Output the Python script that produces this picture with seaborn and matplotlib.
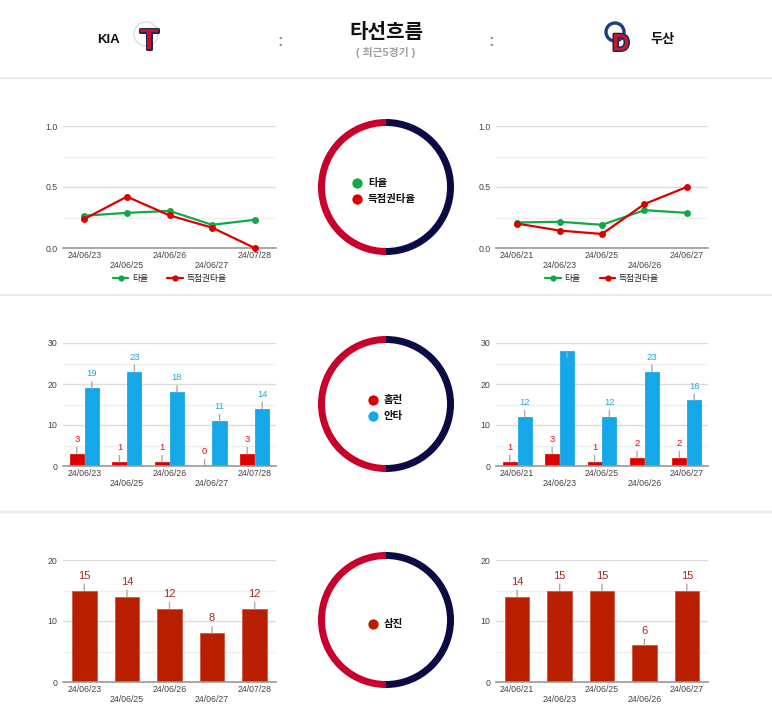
import numpy as np
import pandas as pd
import matplotlib
matplotlib.use('Agg')
from matplotlib import pyplot as plt
from matplotlib.lines import Line2D
from matplotlib.patches import Wedge, Circle
import matplotlib.patheffects as pe
import seaborn as sns

sns.set_theme(style='white')
plt.rcParams['font.family'] = ['Liberation Sans', 'Noto Sans CJK KR', 'DejaVu Sans']

# ---- data ----
kia_dates = ['24/06/23', '24/06/25', '24/06/26', '24/06/27', '24/07/28']
doo_dates = ['24/06/21', '24/06/23', '24/06/25', '24/06/26', '24/06/27']

kia_avg = [0.265, 0.288, 0.304, 0.190, 0.231]
kia_risp = [0.238, 0.421, 0.267, 0.167, 0.0]
doo_avg = [0.209, 0.215, 0.190, 0.310, 0.288]
doo_risp = [0.200, 0.143, 0.115, 0.360, 0.500]

kia_hr = [3, 1, 1, 0, 3]
kia_hit = [19, 23, 18, 11, 14]
doo_hr = [1, 3, 1, 2, 2]
doo_hit = [12, 28, 12, 23, 16]

kia_so = [15, 14, 12, 8, 12]
doo_so = [14, 15, 15, 6, 15]

GREEN = '#12a84a'
RED = '#dd0000'
BLUE = '#14a8e9'
SO_RED = '#b81e00'
SO_TXT = '#a8281a'
CRIMSON = '#c8002b'
NAVY = '#0b0a44'

W, H = 772, 721
fig = plt.figure(figsize=(W / 100, H / 100), dpi=100)

# overlay axes in pixel coords for header, separators and the rings
bg = fig.add_axes([0, 0, 1, 1])
bg.set_xlim(0, W)
bg.set_ylim(H, 0)
bg.axis('off')


def px_axes(l, t, r, b):
    return fig.add_axes([l / W, 1 - b / H, (r - l) / W, (b - t) / H])


def stagger(dates):
    return [d if i % 2 == 0 else '\n' + d for i, d in enumerate(dates)]


def style_axes(ax, ymax, major, minor, fmt):
    ax.set_ylim(0, ymax)
    ax.set_xlim(-0.5, 4.5)
    ax.set_yticks(major)
    ax.set_yticklabels([fmt.format(v) for v in major])
    ax.set_yticks(minor, minor=True)
    ax.yaxis.grid(True, which='major', color='#dcdcdc', lw=1)
    ax.yaxis.grid(True, which='minor', color='#efefef', lw=1)
    ax.xaxis.grid(False)
    ax.set_axisbelow(True)
    for s in ['top', 'right', 'left']:
        ax.spines[s].set_visible(False)
    ax.spines['bottom'].set_color('#999999')
    ax.spines['bottom'].set_linewidth(1.2)
    ax.tick_params(axis='both', which='both', length=0, labelsize=6.3,
                   labelcolor='#444444', pad=4)
    ax.tick_params(axis='x', pad=2)
    ax.set_xlabel('')
    ax.set_ylabel('')


def stem_label(ax, bar, text, color, size, ymax):
    x = bar.get_x() + bar.get_width() / 2
    h = bar.get_height()
    up = h < ymax * 0.88
    ax.annotate(text, xy=(x, h), xytext=(0, 7 if up else -7),
                textcoords='offset points', ha='center',
                va='bottom' if up else 'top', color=color, fontsize=size,
                annotation_clip=False,
                arrowprops=dict(arrowstyle='-', color='#aaaaaa', lw=1,
                                shrinkA=0, shrinkB=0))


# ---- row 1: batting average lines ----
for (l, r), dates, avg, risp in [((63, 276), kia_dates, kia_avg, kia_risp),
                                 ((496, 708), doo_dates, doo_avg, doo_risp)]:
    ax = px_axes(l, 126, r, 248)
    df = pd.DataFrame({
        'pos': list(range(5)) * 2,
        'value': avg + risp,
        'series': ['타율'] * 5 + ['득점권타율'] * 5,
    })
    sns.lineplot(data=df, x='pos', y='value', hue='series',
                 palette={'타율': GREEN, '득점권타율': RED}, marker='o',
                 markersize=5, markeredgewidth=0, linewidth=1.6,
                 legend=False, ax=ax)
    for ln in ax.lines:
        ln.set_clip_on(False)
        ln.set_zorder(3)
    style_axes(ax, 1.0, [0, 0.5, 1.0], [0.25, 0.75], '{:.1f}')
    ax.set_xticks(range(5))
    ax.set_xticklabels(stagger(dates))
    handles = [Line2D([], [], color=GREEN, marker='o', markersize=4.5, lw=1.6,
                      markeredgewidth=0),
               Line2D([], [], color=RED, marker='o', markersize=4.5, lw=1.6,
                      markeredgewidth=0)]
    ax.legend(handles, ['타율', '득점권타율'], loc='upper center',
              bbox_to_anchor=(0.5, -0.175), ncol=2, frameon=False,
              fontsize=6.3, handlelength=1.8, columnspacing=2.2,
              handletextpad=0.4, borderpad=0)

# ---- row 2: home runs and hits ----
for (l, r), dates, hr, hit in [((63, 276), kia_dates, kia_hr, kia_hit),
                               ((496, 708), doo_dates, doo_hr, doo_hit)]:
    ax = px_axes(l, 343, r, 466)
    df = pd.DataFrame({
        'date': dates * 2,
        'value': hr + hit,
        'kind': ['홈런'] * 5 + ['안타'] * 5,
    })
    sns.barplot(data=df, x='date', y='value', hue='kind', order=dates,
                hue_order=['홈런', '안타'],
                palette={'홈런': RED, '안타': BLUE}, width=0.7, gap=0.05,
                saturation=1, legend=False, ax=ax, linewidth=0.6,
                edgecolor='white')
    for cont, vals, col in zip(ax.containers, [hr, hit], ['#dd1111', '#20a8e6']):
        for bar, v in zip(cont, vals):
            bar.set_edgecolor(col)
            stem_label(ax, bar, str(v), col, 6.8, 30)
    style_axes(ax, 30, [0, 10, 20, 30], [5, 15, 25], '{:.0f}')
    ax.set_xticks(range(5))
    ax.set_xticklabels(stagger(dates))

# ---- row 3: strikeouts ----
for (l, r), dates, so in [((63, 276), kia_dates, kia_so),
                          ((496, 708), doo_dates, doo_so)]:
    ax = px_axes(l, 560, r, 682)
    df = pd.DataFrame({'date': dates, 'value': so})
    sns.barplot(data=df, x='date', y='value', order=dates, color=SO_RED,
                width=0.58, saturation=1, ax=ax, linewidth=0.6,
                edgecolor='#d0583f')
    for bar, v in zip(ax.containers[0], so):
        stem_label(ax, bar, str(v), SO_TXT, 8, 20)
    style_axes(ax, 20, [0, 10, 20], [5, 15], '{:.0f}')
    ax.set_xticks(range(5))
    ax.set_xticklabels(stagger(dates))

# ---- center rings with legends ----
rings = [
    (187, 357, [('타율', GREEN), ('득점권타율', RED)]),
    (404, 373, [('홈런', RED), ('안타', BLUE)]),
    (620, 373, [('삼진', SO_RED)]),
]
for cy, dx, items in rings:
    bg.add_patch(Wedge((386, cy), 68, 90, 270, width=7, color=CRIMSON, lw=0))
    bg.add_patch(Wedge((386, cy), 68, -90, 90, width=7, color=NAVY, lw=0))
    n = len(items)
    for k, (name, col) in enumerate(items):
        yy = cy + (k - (n - 1) / 2) * 16 + 4
        bg.scatter([dx], [yy], s=55, color=col, zorder=3, linewidths=0)
        bg.text(dx + 11, yy, name, fontsize=7.5, weight='bold', color='#111111',
                va='center', ha='left')

# ---- separators ----
for y in [78, 295, 512]:
    bg.plot([0, W], [y, y], color='#ececec', lw=1.6)

# ---- header ----
bg.text(386, 32, '타선흐름', fontsize=14.5, weight='bold', ha='center',
        va='center', color='#111111')
bg.text(386, 52, '( 최근5경기 )', fontsize=7.8, weight='bold', ha='center',
        va='center', color='#a0a0a0')
for cx in [280, 491]:
    bg.text(cx, 42, ':', fontsize=12, weight='bold', ha='center', va='center',
            color='#9a9a9a')
bg.text(108, 40, 'KIA', fontsize=9.5, weight='bold', ha='center', va='center',
        color='#111111')
bg.add_patch(Circle((146, 34), 12, fill=False, ec='#d8d8d8', lw=0.8))
bg.text(149, 41, 'T', fontsize=21, weight='heavy', ha='center', va='center',
        color='#c8102e',
        path_effects=[pe.withStroke(linewidth=2.2, foreground='#22264d')])
bg.add_patch(Circle((615, 32), 9, fill=False, ec='#1d3d80', lw=2.4))
bg.text(621, 44, 'D', fontsize=17, weight='heavy', ha='center', va='center',
        color='#cc1530',
        path_effects=[pe.withStroke(linewidth=2.2, foreground='#22264d')])
bg.text(663, 40, '두산', fontsize=9.5, weight='bold', ha='center',
        va='center', color='#111111')

fig.savefig('out.png', dpi=100, facecolor='white')
